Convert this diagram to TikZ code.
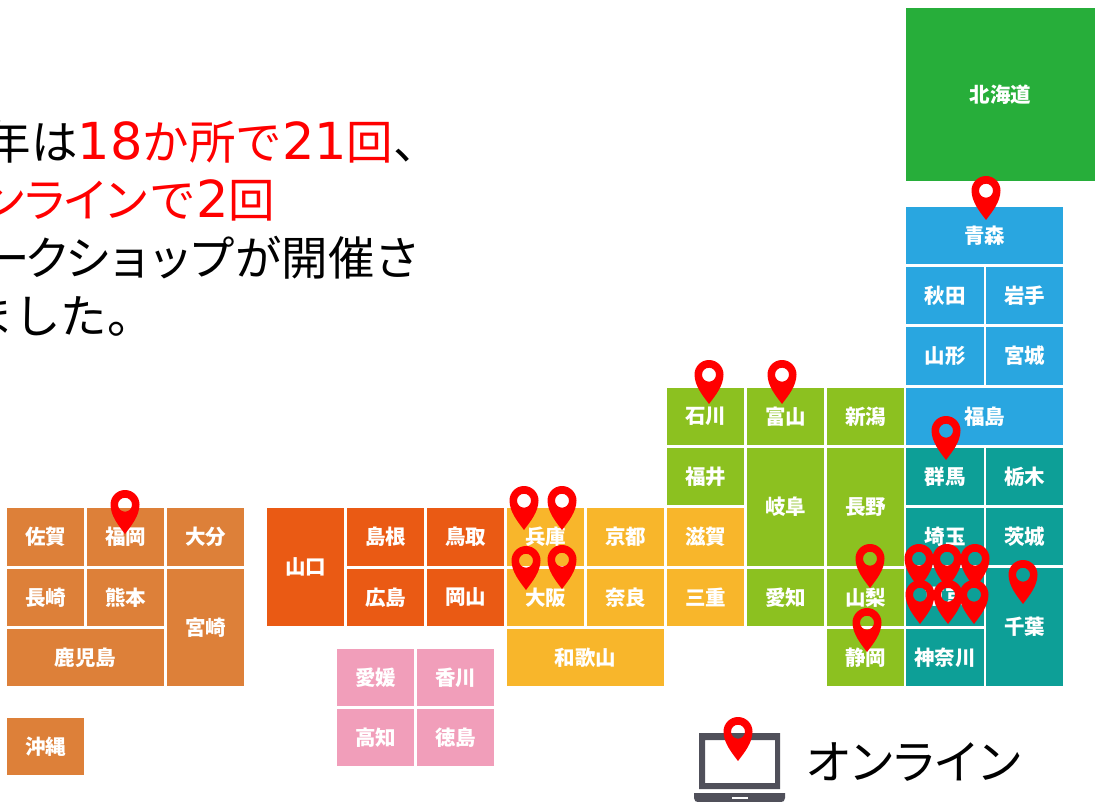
\documentclass[tikz,border=0pt]{standalone}
\usepackage{fontspec}
\setmainfont{Noto Sans CJK JP}
\newfontfamily\digitfont{DejaVu Sans}
\definecolor{hokkaido}{HTML}{27AE3A}
\definecolor{tohoku}{HTML}{29A6E0}
\definecolor{kanto}{HTML}{0D9F97}
\definecolor{chubu}{HTML}{8CC120}
\definecolor{kinki}{HTML}{F8B62B}
\definecolor{chugoku}{HTML}{EA5A14}
\definecolor{shikoku}{HTML}{F19EBA}
\definecolor{kyushu}{HTML}{DD8039}
\definecolor{laptop}{HTML}{50505A}
\tikzset{
  cell/.style={inner sep=0pt,outer sep=0pt,text=white,font=\fontsize{20.5}{24}\selectfont\bfseries},
  bodytext/.style={inner sep=0pt,outer sep=0pt,anchor=base east,font=\fontsize{46.5}{50}\selectfont},
  pinshape/.style={fill=red,even odd rule}
}
\newcommand{\dg}[1]{{\digitfont\fontsize{51}{50}\selectfont #1}}
\newcommand{\kn}[1]{{\addfontfeature{LetterSpace=-12}#1}}
\newcommand{\cell}[7]{\node[cell,fill=#6,minimum width={(#4-#2)*1pt},minimum height={(#5-#3)*1pt}] (#1) at ({(#2+#4)/2},{(#3+#5)/2}) {#7};}
\newcommand{\mappin}[2]{\fill[pinshape,shift={(#1,#2)}] (0,44) .. controls (-6,36) and (-14.5,26) .. (-14.5,14.5) .. controls (-14.5,6.5) and (-8,0) .. (0,0) .. controls (8,0) and (14.5,6.5) .. (14.5,14.5) .. controls (14.5,26) and (6,36) .. (0,44) -- cycle (0,14.7) circle (7);}
\begin{document}
\begin{tikzpicture}[x=1pt,y=-1pt]
\useasboundingbox (0,0) rectangle (1095,802);
\fill[white] (0,0) rectangle (1095,802);
% text
\node[bodytext] (t1) at (440,160) {今年は\textcolor{red}{\dg{18}か所で\dg{21}回}、};
\node[bodytext] (t2) at (275,218) {\textcolor{red}{\kn{オンライン}で\dg{2}回}};
\node[bodytext] (t3) at (421,276) {\kn{ワークショップ}が開催さ};
\node[bodytext] (t4) at (154,334) {れました。};
% Hokkaido
\cell{hkd}{906}{8}{1095}{181}{hokkaido}{北海道}
% Tohoku
\cell{aom}{906}{207}{1063}{264}{tohoku}{青森}
\cell{aki}{906}{267}{984}{324}{tohoku}{秋田}
\cell{iwa}{986}{267}{1063}{324}{tohoku}{岩手}
\cell{yam}{906}{327}{984}{385}{tohoku}{山形}
\cell{miy}{986}{327}{1063}{385}{tohoku}{宮城}
\cell{fks}{906}{388}{1063}{445}{tohoku}{福島}
% Kanto
\cell{gun}{906}{448}{984}{505}{kanto}{群馬}
\cell{toc}{986}{448}{1063}{505}{kanto}{栃木}
\cell{sai}{906}{508}{984}{565}{kanto}{埼玉}
\cell{iba}{986}{508}{1063}{565}{kanto}{茨城}
\cell{tok}{906}{568}{984}{626}{kanto}{東京}
\cell{chi}{986}{568}{1063}{686}{kanto}{千葉}
\cell{kan}{906}{629}{984}{686}{kanto}{神奈川}
% Chubu
\cell{isk}{667}{388}{744}{445}{chubu}{石川}
\cell{toy}{747}{388}{824}{445}{chubu}{富山}
\cell{nii}{827}{388}{904}{445}{chubu}{新潟}
\cell{fki}{667}{448}{744}{505}{chubu}{福井}
\cell{gif}{747}{448}{824}{566}{chubu}{岐阜}
\cell{nag}{827}{448}{904}{566}{chubu}{長野}
\cell{aic}{747}{569}{824}{626}{chubu}{愛知}
\cell{ymn}{827}{569}{904}{626}{chubu}{山梨}
\cell{shz}{827}{629}{904}{686}{chubu}{静岡}
% Kinki
\cell{hyo}{507}{508}{584}{566}{kinki}{兵庫}
\cell{kyo}{587}{508}{664}{566}{kinki}{京都}
\cell{shg}{667}{508}{744}{566}{kinki}{滋賀}
\cell{osk}{507}{569}{584}{626}{kinki}{大阪}
\cell{nar}{587}{569}{664}{626}{kinki}{奈良}
\cell{mie}{667}{569}{744}{626}{kinki}{三重}
\cell{wak}{507}{629}{664}{686}{kinki}{和歌山}
% Chugoku
\cell{ymg}{267}{508}{344}{626}{chugoku}{山口}
\cell{shm}{347}{508}{424}{566}{chugoku}{島根}
\cell{ttr}{427}{508}{504}{566}{chugoku}{鳥取}
\cell{hir}{347}{569}{424}{626}{chugoku}{広島}
\cell{oky}{427}{569}{504}{626}{chugoku}{岡山}
% Shikoku
\cell{ehi}{337}{649}{414}{706}{shikoku}{愛媛}
\cell{kag}{417}{649}{494}{706}{shikoku}{香川}
\cell{koc}{337}{709}{414}{766}{shikoku}{高知}
\cell{tks}{417}{709}{494}{766}{shikoku}{徳島}
% Kyushu
\cell{sag}{7}{508}{84}{566}{kyushu}{佐賀}
\cell{fuk}{87}{508}{164}{566}{kyushu}{福岡}
\cell{oit}{167}{508}{244}{566}{kyushu}{大分}
\cell{ngs}{7}{569}{84}{626}{kyushu}{長崎}
\cell{kum}{87}{569}{164}{626}{kyushu}{熊本}
\cell{myz}{167}{569}{244}{686}{kyushu}{宮崎}
\cell{kgs}{7}{629}{164}{686}{kyushu}{鹿児島}
\cell{oki}{7}{718}{84}{775}{kyushu}{沖縄}
% laptop
\fill[laptop,even odd rule] (699,733) rectangle (780,789) (705,740) rectangle (775,783);
\fill[laptop] (694,793) -- (785,793) -- (785,798) .. controls (785,801) and (783,802) .. (781,802) -- (698,802) .. controls (696,802) and (694,801) .. (694,798) -- cycle;
\fill[white] (732,797) rectangle (748,799);
\node[inner sep=0pt,anchor=base west,font=\fontsize{47}{50}\selectfont] (online) at (805,779) {\addfontfeature{LetterSpace=-9}オンライン};
% pins
\mappin{986}{176}
\mappin{709}{360}
\mappin{782}{360}
\mappin{946}{416}
\mappin{524}{486}
\mappin{562}{486}
\mappin{526}{546}
\mappin{562}{545}
\mappin{125}{490}
\mappin{870}{544}
\mappin{867}{608}
\mappin{919}{544}
\mappin{947}{544}
\mappin{975}{544}
\mappin{920}{580}
\mappin{948}{580}
\mappin{974}{580}
\mappin{1023}{560}
\mappin{738}{717}
\end{tikzpicture}
\end{document}
